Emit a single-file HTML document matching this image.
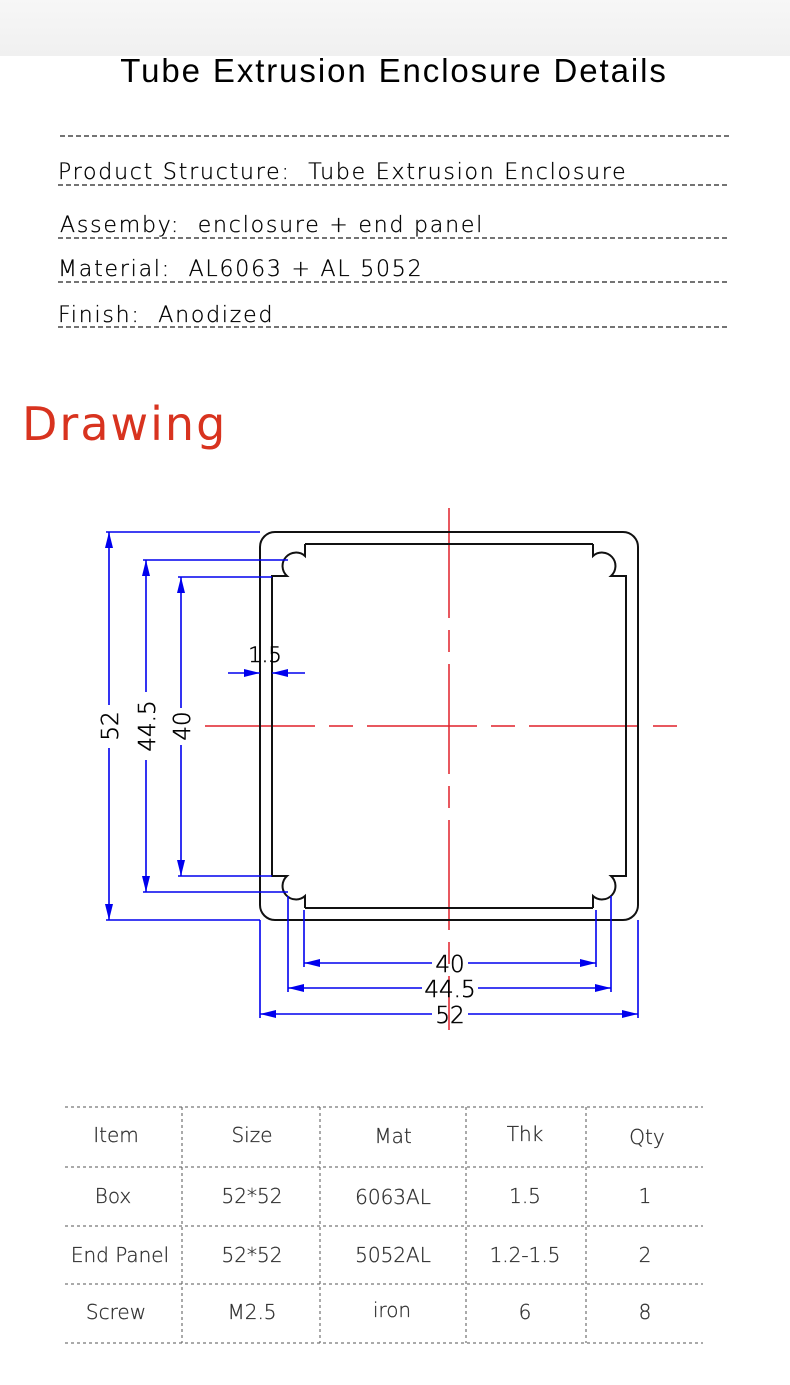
<!DOCTYPE html>
<html><head><meta charset="utf-8"><style>
html,body{margin:0;padding:0;background:#fff;}
svg{display:block;}
</style></head><body>
<svg width="790" height="1385" viewBox="0 0 790 1385" xmlns="http://www.w3.org/2000/svg">
<defs>
<linearGradient id="g" x1="0" y1="0" x2="0" y2="1">
<stop offset="0" stop-color="#f7f7f7"/><stop offset="1" stop-color="#f0f0f0"/>
</linearGradient>
<marker id="ar" viewBox="0 0 16 8" refX="16" refY="4" markerWidth="16" markerHeight="8" markerUnits="userSpaceOnUse" orient="auto-start-reverse">
<path d="M0,0 L16,4 L0,8 z" fill="#0000ee"/></marker>
</defs>
<rect x="0" y="0" width="790" height="56" fill="url(#g)"/>
<text x="394" y="82" text-anchor="middle" font-family="Liberation Sans, sans-serif" font-size="33" letter-spacing="1.9" fill="#000">Tube Extrusion Enclosure Details</text>
<g stroke="#222" stroke-width="1.2" stroke-dasharray="5,3">
<line x1="60" y1="136" x2="730" y2="136"/>
<line x1="58" y1="185" x2="728" y2="185"/>
<line x1="58" y1="238" x2="728" y2="238"/>
<line x1="58" y1="282" x2="728" y2="282"/>
<line x1="58" y1="327" x2="728" y2="327"/>
</g>
<g font-family="DejaVu Sans, sans-serif" font-size="22" fill="#000" font-weight="200" letter-spacing="1.8" stroke="#000" stroke-width="0.3">
<text x="58" y="179">Product Structure:&#160;&#160;Tube Extrusion Enclosure</text>
<text x="60" y="232">Assemby:&#160;&#160;enclosure + end panel</text>
<text x="58" y="276">Material:&#160;&#160;AL6063 + AL 5052</text>
<text x="58" y="322">Finish:&#160;&#160;Anodized</text>
</g>
<text x="22" y="440" font-family="DejaVu Sans, sans-serif" font-size="46" fill="#d8331f" letter-spacing="2">Drawing</text>

<g stroke="#e0202a" stroke-width="1.5">
<line x1="449" y1="508" x2="449" y2="1030" stroke-dasharray="110,12,22,12"/>
<line x1="205" y1="726" x2="680" y2="726" stroke-dasharray="110,14,24,14"/>
</g>

<g fill="none" stroke="#111" stroke-width="2">
<rect x="260" y="532" width="378" height="388" rx="15"/>
<g id="c"><path d="M305,544 V556 A8 8 0 1 0 287 576 H272 V726"/><line x1="305" y1="544" x2="449" y2="544"/></g>
<use href="#c" transform="translate(898,0) scale(-1,1)"/>
<use href="#c" transform="translate(0,1452) scale(1,-1)"/>
<use href="#c" transform="translate(898,1452) scale(-1,-1)"/>
</g>

<g stroke="#0000ee" stroke-width="1.6" fill="none">
<line x1="106" y1="532" x2="260" y2="532"/>
<line x1="106" y1="920" x2="260" y2="920"/>
<line x1="143" y1="560" x2="288" y2="560"/>
<line x1="143" y1="892" x2="288" y2="892"/>
<line x1="178" y1="577" x2="272" y2="577"/>
<line x1="178" y1="876" x2="272" y2="876"/>
<line x1="109" y1="532" x2="109" y2="705" marker-start="url(#ar)"/>
<line x1="109" y1="748" x2="109" y2="920" marker-end="url(#ar)"/>
<line x1="146" y1="560" x2="146" y2="692" marker-start="url(#ar)"/>
<line x1="146" y1="760" x2="146" y2="892" marker-end="url(#ar)"/>
<line x1="181" y1="577" x2="181" y2="708" marker-start="url(#ar)"/>
<line x1="181" y1="745" x2="181" y2="876" marker-end="url(#ar)"/>
<line x1="260" y1="920" x2="260" y2="1018"/>
<line x1="638" y1="920" x2="638" y2="1018"/>
<line x1="288" y1="896" x2="288" y2="992"/>
<line x1="611" y1="896" x2="611" y2="992"/>
<line x1="304" y1="910" x2="304" y2="967"/>
<line x1="596" y1="910" x2="596" y2="967"/>
<line x1="304" y1="963" x2="432" y2="963" marker-start="url(#ar)"/>
<line x1="468" y1="963" x2="596" y2="963" marker-end="url(#ar)"/>
<line x1="288" y1="988" x2="422" y2="988" marker-start="url(#ar)"/>
<line x1="478" y1="988" x2="611" y2="988" marker-end="url(#ar)"/>
<line x1="260" y1="1014" x2="432" y2="1014" marker-start="url(#ar)"/>
<line x1="468" y1="1014" x2="638" y2="1014" marker-end="url(#ar)"/>
<line x1="228" y1="673" x2="260" y2="673" marker-end="url(#ar)"/>
<line x1="305" y1="673" x2="272" y2="673" marker-end="url(#ar)"/>
</g>
<g font-family="DejaVu Sans, sans-serif" font-size="23" fill="#000" font-weight="200" stroke="#000" stroke-width="0.5">
<text x="450" y="972" text-anchor="middle">40</text>
<text x="450" y="997" text-anchor="middle">44.5</text>
<text x="450" y="1023" text-anchor="middle">52</text>
<text x="265" y="662" text-anchor="middle" font-size="21">1.5</text>
<text transform="translate(118,726) rotate(-90)" text-anchor="middle">52</text>
<text transform="translate(155,726) rotate(-90)" text-anchor="middle">44.5</text>
<text transform="translate(190,726) rotate(-90)" text-anchor="middle">40</text>
</g>

<g stroke="#555" stroke-width="1" stroke-dasharray="3,3">
<line x1="65" y1="1107" x2="703" y2="1107"/>
<line x1="65" y1="1167" x2="703" y2="1167"/>
<line x1="65" y1="1226" x2="703" y2="1226"/>
<line x1="65" y1="1284" x2="703" y2="1284"/>
<line x1="65" y1="1343" x2="703" y2="1343"/>
<line x1="182" y1="1107" x2="182" y2="1343"/>
<line x1="320" y1="1107" x2="320" y2="1343"/>
<line x1="466" y1="1107" x2="466" y2="1343"/>
<line x1="586" y1="1107" x2="586" y2="1343"/>
</g>
<g font-family="DejaVu Sans, sans-serif" font-size="20" fill="#333" font-weight="200" text-anchor="middle" stroke="#333" stroke-width="0.3">
<text x="116" y="1142">Item</text><text x="252" y="1142">Size</text><text x="393" y="1143">Mat</text><text x="525" y="1141">Thk</text><text x="647" y="1144">Qty</text>
<text x="113" y="1203">Box</text><text x="252" y="1203">52*52</text><text x="393" y="1204">6063AL</text><text x="525" y="1203">1.5</text><text x="645" y="1203">1</text>
<text x="120" y="1262">End Panel</text><text x="252" y="1262">52*52</text><text x="393" y="1262">5052AL</text><text x="525" y="1262">1.2-1.5</text><text x="645" y="1262">2</text>
<text x="116" y="1319">Screw</text><text x="252" y="1319">M2.5</text><text x="392" y="1317">iron</text><text x="525" y="1319">6</text><text x="645" y="1319">8</text>
</g>
</svg>
</body></html>
